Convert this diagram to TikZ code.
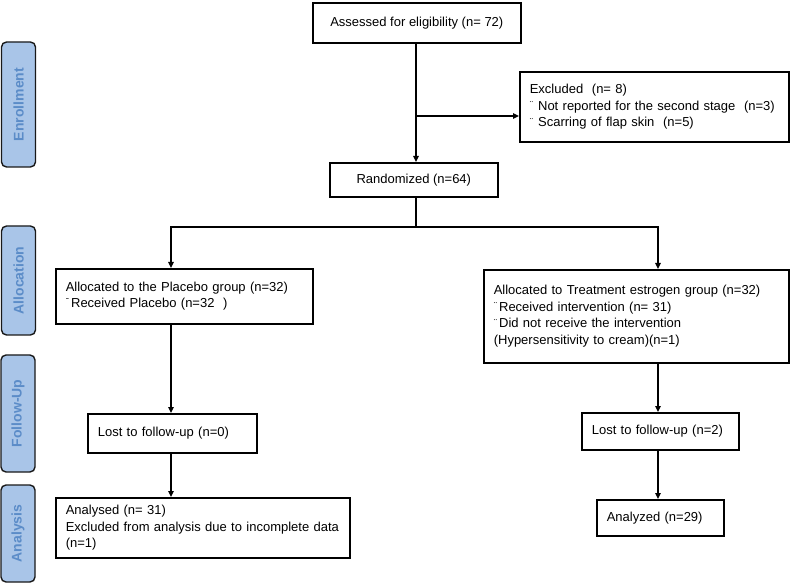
\documentclass[tikz,border=0pt]{standalone}
\usepackage{fontspec}
\setmainfont{Liberation Sans}
\usetikzlibrary{arrows.meta,calc}
\definecolor{sidefill}{HTML}{A9C5E8}
\definecolor{sidetext}{HTML}{5B8CC8}
\tikzset{
  box/.style={draw=black, line width=1.6pt, anchor=north west, inner xsep=10pt, inner ysep=0pt,
    font=\fontsize{13}{16.5}\selectfont, align=left},
  cbox/.style={box, align=center},
  side/.style={draw=black!90, line width=1.4pt, rounded corners=5pt, fill=sidefill, rotate=90,
    minimum height=34pt, text=sidetext, font=\fontsize{14}{16}\selectfont\bfseries, inner sep=0pt},
  conn/.style={line width=1.3pt},
  arr/.style={conn, -{Triangle[length=6pt,width=5.5pt]}},
}
\newcommand{\bul}{{\fontsize{10}{10}\selectfont\raisebox{1.5pt}{¨}}\hspace{5pt}}
\newcommand{\bulb}{{\fontsize{10}{10}\selectfont\raisebox{1.5pt}{¨}}\hspace{2pt}}
\begin{document}
\begin{tikzpicture}[x=1pt,y=-1pt]
\useasboundingbox (0,0) rectangle (790,585);
% side labels
\node[side, minimum width=125pt] (lenr) at (18.5,104.5) {Enrollment};
\node[side, minimum width=109pt] (lall) at (18.5,280.5) {Allocation};
\node[side, minimum width=117pt] (lfu) at (18,413.5) {Follow-Up};
\node[side, minimum width=97pt] (lana) at (18,533.5) {Analysis};
% boxes
\node[cbox, minimum width=208pt, minimum height=40pt] (assess) at (312,2) {Assessed for eligibility (n= 72)};
\node[box, minimum width=269pt, minimum height=70pt, text width=249pt] (excl) at (519,71)
  {Excluded\ \ (n= 8)\\ \bul Not reported for the second stage\ \ (n=3)\\ \bul Scarring of flap skin\ \ (n=5)};
\node[cbox, minimum width=168pt, minimum height=34pt] (rand) at (329,162) {Randomized (n=64)};
\node[box, minimum width=257pt, minimum height=55pt, text width=237pt] (allocL) at (55,268)
  {Allocated to the Placebo group (n=32)\\ {\fontsize{10}{10}\selectfont\raisebox{2pt}{ˉ}}\hspace{2pt}Received Placebo (n=32\ \ )};
\node[box, minimum width=305pt, minimum height=93pt, text width=285pt] (allocR) at (483,269)
  {Allocated to Treatment estrogen group (n=32)\\ \bulb Received intervention (n= 31)\\ \bulb Did not receive the intervention\\ (Hypersensitivity to cream)(n=1)};
\node[box, minimum width=169pt, minimum height=39pt, text width=149pt] (fuL) at (87,413) {Lost to follow-up (n=0)};
\node[box, minimum width=157pt, minimum height=37pt, text width=137pt] (fuR) at (581,412) {Lost to follow-up (n=2)};
\node[box, minimum width=294pt, minimum height=60pt, text width=274pt] (anaL) at (55,497)
  {Analysed (n= 31)\\ Excluded from analysis due to incomplete data\\ (n=1)};
\node[box, minimum width=127pt, minimum height=36pt, text width=107pt] (anaR) at (596,499) {Analyzed (n=29)};
% connectors
\coordinate (mcol) at (416,0);
\coordinate (lcol) at (171,0);
\coordinate (rcol) at (658,0);
\coordinate (ex) at (416,116);
\coordinate (split) at (416,227);
\draw[arr] (mcol |- assess.south) -- (mcol |- rand.north);
\draw[arr] (ex) -- (ex -| excl.west);
\draw[conn] (mcol |- rand.south) -- (split);
\draw[arr] (split) -| (lcol |- allocL.north);
\draw[arr] (split) -| (rcol |- allocR.north);
\draw[arr] (lcol |- allocL.south) -- (lcol |- fuL.north);
\draw[arr] (lcol |- fuL.south) -- (lcol |- anaL.north);
\draw[arr] (rcol |- allocR.south) -- (rcol |- fuR.north);
\draw[arr] (rcol |- fuR.south) -- (rcol |- anaR.north);
\end{tikzpicture}
\end{document}
